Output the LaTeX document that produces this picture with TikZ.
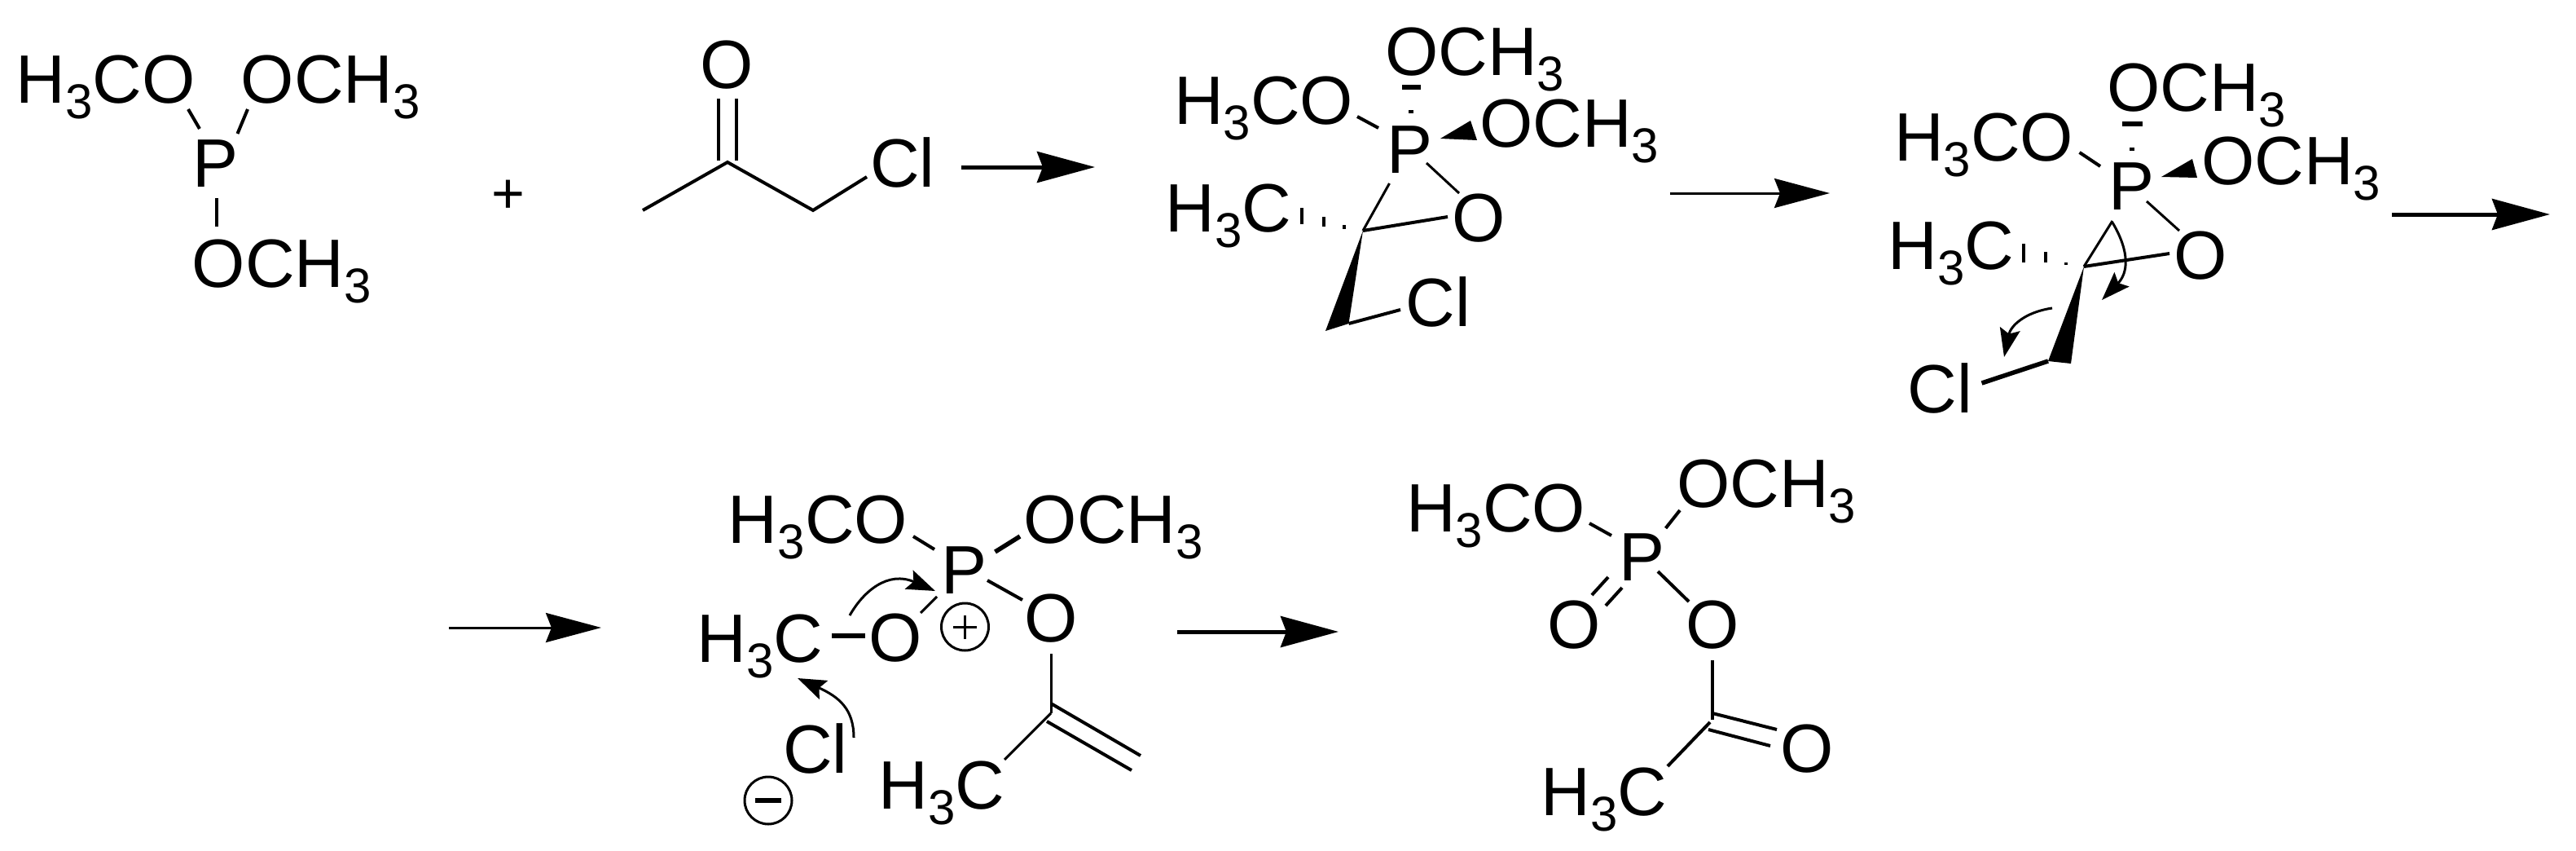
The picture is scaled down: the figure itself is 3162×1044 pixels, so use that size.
\documentclass[tikz,border=0pt]{standalone}
\usepackage{fontspec}
\setmainfont{Liberation Sans}
\usetikzlibrary{arrows.meta}
\newcommand{\three}{\raisebox{-19pt}{\fontsize{60}{60}\selectfont 3}}
\newcommand{\hhhc}{H\three C}
\newcommand{\hhhco}{H\three CO}
\newcommand{\ochhh}{OCH\three}
\tikzset{
  atom/.style={anchor=base,inner sep=0pt,outer sep=0pt,font=\fontsize{84}{84}\selectfont},
  plusmark/.style={inner sep=0pt,outer sep=0pt,font=\fontsize{70}{70}\selectfont},
  bond/.style={line width=4pt,line cap=butt},
  thinbond/.style={line width=3pt,line cap=butt},
  boldbond/.style={line width=5.5pt,line cap=butt},
  hashmark/.style={line width=4pt},
  wedge/.style={fill=black},
  react/.style={line width=5pt,-{Stealth[length=71pt,width=38pt,inset=7pt]}},
  reactthin/.style={line width=3pt,-{Stealth[length=68pt,width=36pt,inset=7pt]}},
  curved/.style={line width=3pt,-{Stealth[length=35pt,width=25pt,inset=6pt]}},
  chargering/.style={circle,draw,line width=3pt,minimum size=58pt,inner sep=0pt}
}
\begin{document}
\begin{tikzpicture}[x=1pt,y=-1pt]
\useasboundingbox[fill=white] (0,0) rectangle (3162,1044);
% ---------- reactants ----------
\node[atom] (aOa) at (129.5,126) {\hhhco};
\node[atom] (aOb) at (406,126) {\ochhh};
\node[atom] (aP) at (265,229) {P};
\node[atom] (aOc) at (346,352) {\ochhh};
\coordinate (a1) at (231,134); \coordinate (a2) at (245,158);
\coordinate (a3) at (304,134); \coordinate (a4) at (291.5,164);
\coordinate (a5) at (266,243); \coordinate (a6) at (266,278);
\draw[bond] (a1) -- (a2);
\draw[bond] (a3) -- (a4);
\draw[bond] (a5) -- (a6);
\node[plusmark] (plus) at (624,241) {+};
\node[atom] (kO) at (892,108) {O};
\node[atom] (kCl) at (1108,229) {Cl};
\coordinate (kC) at (893,199);
\coordinate (kMe) at (789,258);
\coordinate (kCH) at (998,258);
\coordinate (kClb) at (1064,217);
\coordinate (kd1) at (882,121); \coordinate (kd2) at (882,197);
\coordinate (kd3) at (904,121); \coordinate (kd4) at (904,197);
\draw[bond] (kd1) -- (kd2);
\draw[bond] (kd3) -- (kd4);
\draw[bond,line join=miter] (kMe) -- (kC) -- (kCH) -- (kClb);
\coordinate (ar1a) at (1180,205); \coordinate (ar1b) at (1344,205);
\draw[react] (ar1a) -- (ar1b);
% ---------- intermediate 1 ----------
\node[atom] (bOt) at (1810,92) {\ochhh};
\node[atom] (bOl) at (1551,152) {\hhhco};
\node[atom] (bOr) at (1926,180) {\ochhh};
\node[atom] (bP) at (1730,212) {P};
\node[atom] (bMe) at (1508,284) {\hhhc};
\node[atom] (bO) at (1815,296) {O};
\node[atom] (bCl) at (1765,400) {Cl};
\coordinate (bh1) at (1721,107); \coordinate (bh2) at (1744,107);
\coordinate (bh3) at (1729,137); \coordinate (bh4) at (1735,137);
\draw[boldbond] (bh1) -- (bh2);
\draw[hashmark] (bh3) -- (bh4);
\coordinate (b1) at (1666,143); \coordinate (b2) at (1692,157);
\draw[bond] (b1) -- (b2);
\coordinate (bw1) at (1768,170); \coordinate (bw2) at (1805,148); \coordinate (bw3) at (1813,172);
\fill[wedge] (bw1) -- (bw2) -- (bw3) -- cycle;
\coordinate (b3) at (1751,200); \coordinate (b4) at (1791,237);
\draw[thinbond] (b3) -- (b4);
\coordinate (bC) at (1673,283); \coordinate (b5) at (1705.5,225); \coordinate (b6) at (1777,266);
\draw[thinbond] (bC) -- (b5);
\draw[bond] (bC) -- (b6);
\coordinate (bm1) at (1598,255); \coordinate (bm2) at (1598,275);
\coordinate (bm3) at (1625,266); \coordinate (bm4) at (1625,278);
\coordinate (bm5) at (1650,276); \coordinate (bm6) at (1650,281);
\draw[hashmark] (bm1) -- (bm2);
\draw[hashmark] (bm3) -- (bm4);
\draw[hashmark] (bm5) -- (bm6);
\coordinate (bw4) at (1627,406); \coordinate (bw5) at (1655.5,397);
\fill[wedge] (bC) -- (bw4) -- (bw5) -- cycle;
\coordinate (b7) at (1719,380);
\draw[bond] (bw5) -- (b7);
\coordinate (ar2a) at (2050,237); \coordinate (ar2b) at (2246,237);
\draw[reactthin] (ar2a) -- (ar2b);
% ---------- intermediate 2 ----------
\node[atom] (cOt) at (2696,136) {\ochhh};
\node[atom] (cOl) at (2435,197) {\hhhco};
\node[atom] (cOr) at (2812,226) {\ochhh};
\node[atom] (cP) at (2616,257) {P};
\node[atom] (cMe) at (2395,330) {\hhhc};
\node[atom] (cO) at (2701,342) {O};
\node[atom] (cCl) at (2381,506) {Cl};
\coordinate (ch1) at (2605,152); \coordinate (ch2) at (2630,152);
\coordinate (ch3) at (2614,183); \coordinate (ch4) at (2620,183);
\draw[boldbond] (ch1) -- (ch2);
\draw[hashmark] (ch3) -- (ch4);
\coordinate (c1) at (2552.5,187); \coordinate (c2) at (2578,204);
\draw[bond] (c1) -- (c2);
\coordinate (cw1) at (2653,217); \coordinate (cw2) at (2691,195); \coordinate (cw3) at (2697,218);
\fill[wedge] (cw1) -- (cw2) -- (cw3) -- cycle;
\coordinate (c3) at (2635,247); \coordinate (c4) at (2675,283);
\draw[thinbond] (c3) -- (c4);
\coordinate (cC) at (2558,327); \coordinate (c5) at (2593,271); \coordinate (c6) at (2663,311);
\draw[thinbond] (cC) -- (c5);
\draw[bond] (cC) -- (c6);
\coordinate (cm1) at (2484,299); \coordinate (cm2) at (2484,322);
\coordinate (cm3) at (2511,309); \coordinate (cm4) at (2511,322);
\coordinate (cm5) at (2536,322); \coordinate (cm6) at (2536,325);
\draw[hashmark] (cm1) -- (cm2);
\draw[hashmark] (cm3) -- (cm4);
\draw[hashmark] (cm5) -- (cm6);
\coordinate (cw4) at (2514,443); \coordinate (cw5) at (2542,446);
\fill[wedge] (cC) -- (cw4) -- (cw5) -- cycle;
\coordinate (c7) at (2432.5,470);
\draw[boldbond] (cw4) -- (c7);
\coordinate (cca) at (2593,273); \coordinate (ccb) at (2580,368);
\draw[curved] (cca) .. controls (2615,310) and (2612,335) .. (ccb);
\coordinate (cda) at (2519,378); \coordinate (cdb) at (2460,438);
\draw[curved] (cda) .. controls (2485,383) and (2468,400) .. (cdb);
\coordinate (ar3a) at (2936,263); \coordinate (ar3b) at (3130,263);
\draw[react] (ar3a) -- (ar3b);
% ---------- second row ----------
\coordinate (ar4a) at (551,770); \coordinate (ar4b) at (738,770);
\draw[reactthin] (ar4a) -- (ar4b);
\node[atom] (dOl) at (1004,666) {\hhhco};
\node[atom] (dOr) at (1367,666) {\ochhh};
\node[atom] (dP) at (1184,728) {P};
\node[atom] (dMe) at (933,812) {\hhhc};
\node[atom] (dOm) at (1099,811) {O};
\node[atom] (dOe) at (1290,787) {O};
\node[atom] (dCl) at (1001,948) {Cl};
\node[atom] (dMeb) at (1156,992) {\hhhc};
\node[chargering] (dplus) at (1184.5,769) {};
\coordinate (dpl) at (1170,769); \coordinate (dpr) at (1199,769);
\coordinate (dpt) at (1184.5,755); \coordinate (dpb) at (1184.5,784);
\draw[thinbond] (dpl) -- (dpr);
\draw[thinbond] (dpt) -- (dpb);
\node[chargering] (dminus) at (943,982) {};
\coordinate (dml) at (927,982); \coordinate (dmr) at (959,982);
\draw[boldbond] (dml) -- (dmr);
\coordinate (d1) at (1121,658); \coordinate (d2) at (1147,674);
\coordinate (d3) at (1221.5,677); \coordinate (d4) at (1252,658);
\coordinate (d5) at (1212,712); \coordinate (d6) at (1255,736);
\coordinate (d7) at (1130,752); \coordinate (d8) at (1150,732);
\coordinate (d9) at (1021,780); \coordinate (d10) at (1062,780);
\draw[bond] (d1) -- (d2);
\draw[boldbond] (d3) -- (d4);
\draw[bond] (d5) -- (d6);
\draw[thinbond] (d7) -- (d8);
\draw[boldbond] (d9) -- (d10);
\coordinate (dC) at (1290,875); \coordinate (d11) at (1290,802); \coordinate (d12) at (1233,932);
\draw[thinbond] (d11) -- (dC);
\draw[thinbond] (dC) -- (d12);
\coordinate (dd1) at (1290,863); \coordinate (dd2) at (1400,927);
\coordinate (dd3) at (1285,885); \coordinate (dd4) at (1389,945);
\draw[bond] (dd1) -- (dd2);
\draw[bond] (dd3) -- (dd4);
\coordinate (dca) at (1043,755); \coordinate (dcb) at (1148,725);
\draw[curved] (dca) .. controls (1060,725) and (1090,700) .. (dcb);
\coordinate (dda) at (1048,905); \coordinate (ddb) at (979,832);
\draw[curved] (dda) .. controls (1048,870) and (1030,855) .. (ddb);
\coordinate (ar5a) at (1445,775); \coordinate (ar5b) at (1643,775);
\draw[react] (ar5a) -- (ar5b);
% ---------- product ----------
\node[atom] (eOl) at (1836,652) {\hhhco};
\node[atom] (eOr) at (2168,622) {\ochhh};
\node[atom] (eP) at (2015,712) {P};
\node[atom] (eOd) at (1932,795) {O};
\node[atom] (eOe) at (2102,795) {O};
\node[atom] (eOc) at (2218,947) {O};
\node[atom] (eMe) at (1969,1000) {\hhhc};
\coordinate (e1) at (1951,642); \coordinate (e2) at (1978,657);
\coordinate (e3) at (2044.6,648); \coordinate (e4) at (2062,626);
\coordinate (e5) at (1974,708); \coordinate (e6) at (1954,730);
\coordinate (e7) at (1991,721); \coordinate (e8) at (1971,743);
\coordinate (e9) at (2035,701); \coordinate (e10) at (2073,738);
\draw[bond] (e1) -- (e2);
\draw[bond] (e3) -- (e4);
\draw[bond] (e5) -- (e6);
\draw[bond] (e7) -- (e8);
\draw[bond] (e9) -- (e10);
\coordinate (e11) at (2102,810); \coordinate (e12) at (2102,883);
\coordinate (e13) at (2102,875); \coordinate (e14) at (2181,895);
\coordinate (e15) at (2097,895); \coordinate (e16) at (2173,915);
\coordinate (e17) at (2099,886); \coordinate (e18) at (2047,940);
\draw[bond] (e11) -- (e12);
\draw[bond] (e13) -- (e14);
\draw[bond] (e15) -- (e16);
\draw[bond] (e17) -- (e18);
\end{tikzpicture}
\end{document}
